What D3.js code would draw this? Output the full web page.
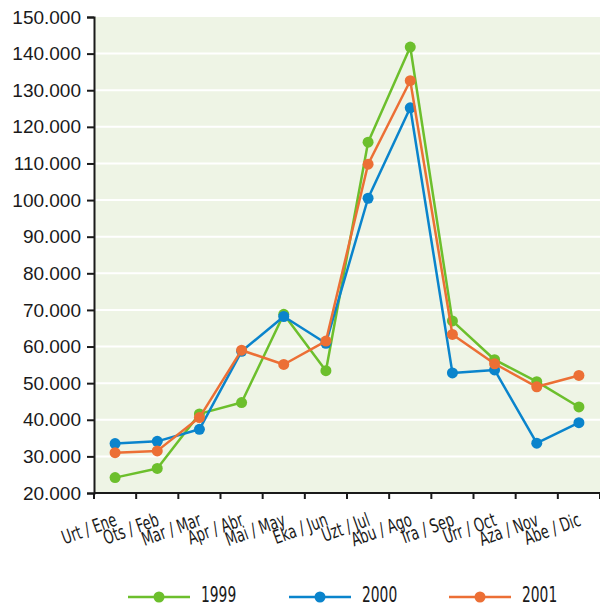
<!DOCTYPE html>
<html>
<head>
<meta charset="utf-8">
<script src="https://cdn.jsdelivr.net/npm/d3@7"></script>
<style>
  body { margin: 0; background: #fff; }
  svg { display: block; font-family: "DejaVu Sans Condensed", "Liberation Sans Narrow", sans-serif; }
</style>
</head>
<body>
<svg id="chart" width="600" height="607"></svg>
<script>
// months (Basque / Spanish)
var months = ["Urt / Ene", "Ots / Feb", "Mar / Mar", "Apr / Abr", "Mai / May", "Eka / Jun",
  "Uzt / Jul", "Abu / Ago", "Ira / Sep", "Urr / Oct", "Aza / Nov", "Abe / Dic"];
var years = ["1999", "2000", "2001"];
var v1999 = [24200, 26700, 41600, 44700, 68800, 53400, 115800, 141800, 67000, 56400, 50400, 43500];
var v2000 = [33500, 34100, 37400, 58700, 68200, 60900, 100500, 125200, 52800, 53600, 33600, 39200];
var v2001 = [31000, 31500, 40600, 59000, 55100, 61500, 109800, 132600, 63300, 55300, 49000, 52100];
var yTicks = [20000, 30000, 40000, 50000, 60000, 70000, 80000, 90000, 100000, 110000, 120000, 130000, 140000, 150000];
var colors = ["#6cbf2c", "#0a84cc", "#ec6f35"];

var series = [v1999, v2000, v2001];

var svg = d3.select("#chart");
var margin = { top: 17, right: 0, bottom: 114, left: 94 },
  width = 600 - margin.left - margin.right,
  height = 607 - margin.top - margin.bottom;
var g = svg.append("g").attr("transform", "translate(" + margin.left + "," + margin.top + ")");

var x = d3.scaleBand().domain(months).range([0, width]);
var y = d3.scaleLinear().domain([20000, 150000]).range([height, 0]);

g.append("rect").attr("width", width).attr("height", height).attr("fill", "#eef4e5");

// gridlines
g.append("g").selectAll("line").data(yTicks.slice(1, -1)).enter().append("line")
  .attr("x1", 0).attr("x2", width)
  .attr("y1", function (d) { return y(d); }).attr("y2", function (d) { return y(d); })
  .attr("stroke", "#fff").attr("stroke-width", 2);

var yAxis = g.append("g")
  .call(d3.axisLeft(y).tickValues(yTicks).tickSize(7).tickPadding(6)
    .tickFormat(function (d) { return d3.format(",")(d).replace(/,/g, "."); }));
yAxis.selectAll("text").attr("font-size", 19).attr("fill", "#1a1a1a");
yAxis.selectAll("line, path").attr("stroke", "#1a1a1a").attr("stroke-width", 2);

var xTicksPos = d3.range(months.length + 1).map(function (i) { return i * x.bandwidth(); });
var xAxis = g.append("g").attr("transform", "translate(0," + height + ")");
xAxis.append("line").attr("x1", 0).attr("x2", width).attr("stroke", "#1a1a1a").attr("stroke-width", 2);
xAxis.selectAll(".tk").data(xTicksPos).enter().append("line")
  .attr("x1", function (d) { return d; }).attr("x2", function (d) { return d; })
  .attr("y1", 0).attr("y2", 6).attr("stroke", "#1a1a1a").attr("stroke-width", 2);
xAxis.selectAll("text").data(months).enter().append("text")
  .attr("transform", function (d) {
    return "translate(" + (x(d) + x.bandwidth() / 2 + 3) + ",32) rotate(-20) scale(0.76,1)";
  })
  .attr("text-anchor", "end")
  .attr("font-size", 19).attr("fill", "#1a1a1a")
  .text(function (d) { return d; });

var line = d3.line()
  .x(function (d, i) { return x(months[i]) + x.bandwidth() / 2; })
  .y(function (d) { return y(d); });

series.forEach(function (s, k) {
  var sg = g.append("g");
  sg.append("path").datum(s).attr("d", line)
    .attr("fill", "none").attr("stroke", colors[k]).attr("stroke-width", 2.5)
    .attr("stroke-linejoin", "round");
  sg.selectAll("circle").data(s).enter().append("circle")
    .attr("cx", function (d, i) { return x(months[i]) + x.bandwidth() / 2; })
    .attr("cy", function (d) { return y(d); })
    .attr("r", 5.5).attr("fill", colors[k]);
});

// legend
var legendX = [128, 289, 449];
var leg = svg.append("g").selectAll("g").data(years).enter().append("g")
  .attr("transform", function (d, i) { return "translate(" + legendX[i] + ",597)"; });
leg.append("line").attr("x1", 0).attr("x2", 62)
  .attr("stroke", function (d, i) { return colors[i]; }).attr("stroke-width", 2.5);
leg.append("circle").attr("cx", 31).attr("r", 5.5).attr("fill", function (d, i) { return colors[i]; });
leg.append("text").attr("transform", "translate(73,5) scale(0.7,1)")
  .attr("font-size", 22).attr("fill", "#1a1a1a")
  .text(function (d) { return d; });
</script>
</body>
</html>
